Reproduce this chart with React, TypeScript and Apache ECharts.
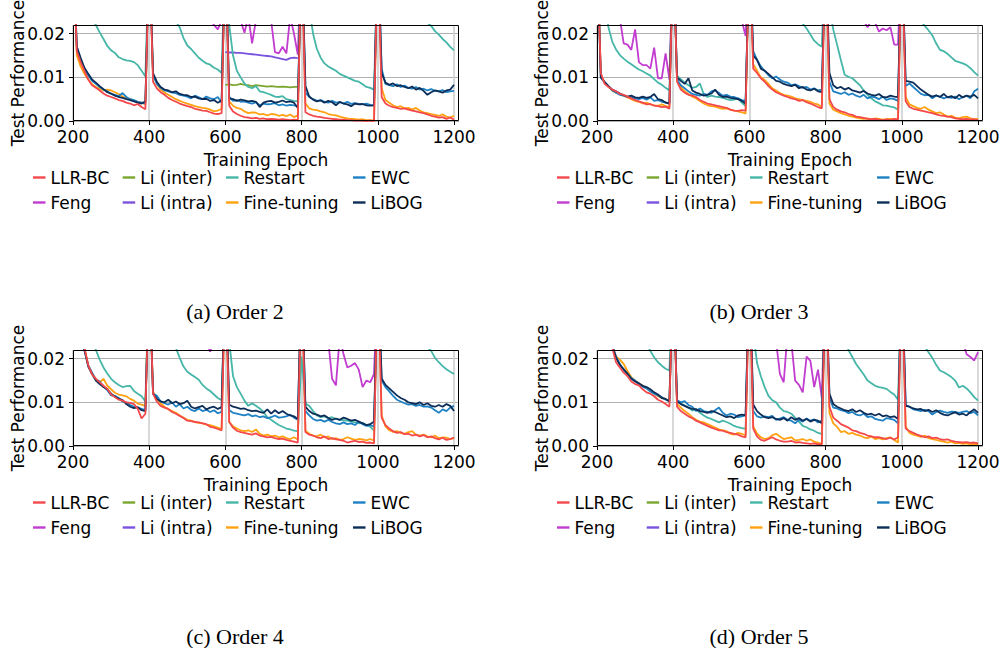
import React, { useEffect, useRef } from "react";
import * as echarts from "echarts";

// ---------- axes / labels ----------
const EPOCHS = [
  200, 210, 220, 230, 240, 250, 260, 270, 280, 290, 300, 310, 320, 330, 340, 350, 360, 370, 380, 390,
  400, 410, 420, 430, 440, 450, 460, 470, 480, 490, 500, 510, 520, 530, 540, 550, 560, 570, 580, 590,
  600, 610, 620, 630, 640, 650, 660, 670, 680, 690, 700, 710, 720, 730, 740, 750, 760, 770, 780, 790,
  800, 810, 820, 830, 840, 850, 860, 870, 880, 890, 900, 910, 920, 930, 940, 950, 960, 970, 980, 990,
  1000, 1010, 1020, 1030, 1040, 1050, 1060, 1070, 1080, 1090, 1100, 1110, 1120, 1130, 1140, 1150, 1160, 1170, 1180, 1190, 1200,
];
const LI_EPOCHS = [600, 610, 620, 630, 640, 650, 660, 670, 680, 690, 700, 710, 720, 730, 740, 750, 760, 770, 780, 790];
const X_TICKS = [200, 400, 600, 800, 1000, 1200];
const Y_TICKS = [0, 10, 20]; // values are in units of 1e-3
const Y_TICK_LABELS = ["0.00", "0.01", "0.02"];
const X_NAME = "Training Epoch";
const Y_NAME = "Test Performance";
const CAPTIONS = ["(a) Order 2", "(b) Order 3", "(c) Order 4", "(d) Order 5"];
const LEGEND_COLUMNS = [
  ["LLR-BC", "Feng"],
  ["Li (inter)", "Li (intra)"],
  ["Restart", "Fine-tuning"],
  ["EWC", "LiBOG"],
];
const COLORS: Record<string, string> = {
  "LLR-BC": "#f4484b",
  Feng: "#c13ccf",
  "Li (inter)": "#7aa630",
  "Li (intra)": "#7a52de",
  Restart: "#45b6a8",
  "Fine-tuning": "#ffa211",
  EWC: "#1d81c4",
  LiBOG: "#0c2d58",
};

// ---------- (a) Order 2 ----------
const A_LLR = [
  40, 16, 13.5, 11.5, 9.5, 8.2, 7.6, 7.0, 6.3, 5.8, 5.5, 5.2, 4.8, 4.6, 4.2, 4.0, 3.6, 3.9, 3.2, 2.7,
  40, 9, 7.5, 6.6, 6.0, 5.3, 4.8, 4.4, 4.0, 3.7, 3.4, 3.2, 2.8, 2.6, 2.4, 2.3, 2.0, 1.7, 1.6, 1.8,
  40, 3.5, 2.2, 1.6, 1.2, 0.9, 0.8, 0.6, 0.7, 0.5, 0.6, 0.4, 0.5, 0.4, 0.3, 0.4, 0.3, 0.2, 0.3, 0.2,
  40, 2.0, 1.5, 1.2, 1.0, 0.9, 0.7, 0.6, 0.5, 0.4, 0.3, 0.3, 0.2, 0.2, 0.1, 0.1, 0.1, 0.0, 0.1, 0.0,
  40, 5.5, 4.0, 3.5, 3.2, 3.0, 2.8, 2.9, 2.6, 2.4, 2.2, 2.0, 1.8, 1.5, 1.2, 1.0, 0.8, 0.9, 0.5, 0.8, 0.3,
];
const A_FT = [
  40, 15, 12.5, 10.8, 9.5, 8.4, 7.8, 7.4, 7.0, 7.2, 7.0, 6.6, 6.2, 5.6, 5.2, 5.0, 4.6, 4.4, 4.2, 3.8,
  40, 10.5, 8.5, 7.2, 6.5, 6.0, 5.5, 5.0, 4.6, 4.3, 4.0, 3.7, 3.4, 3.2, 3.0, 2.9, 2.6, 2.2, 2.4, 2.8,
  40, 4.5, 3.5, 3.0, 2.8, 2.2, 1.8, 2.0, 1.9, 1.5, 1.6, 1.3, 1.6, 1.5, 1.2, 1.4, 1.1, 1.5, 0.9, 1.3,
  40, 4.0, 2.9, 2.6, 2.5, 2.2, 2.0, 1.6, 1.4, 1.3, 1.0, 0.8, 0.6, 0.5, 0.4, 0.3, 0.4, 0.2, 0.2, 0.1,
  40, 7.5, 4.8, 4.2, 3.6, 3.2, 3.4, 2.9, 3.0, 2.6, 3.0, 2.4, 2.0, 1.8, 1.6, 1.4, 1.2, 1.5, 1.0, 0.8, 1.2,
];
const A_EWC = [
  40, 17, 14, 12, 10.5, 9.2, 8.5, 7.8, 7.2, 6.8, 6.2, 6.0, 5.7, 6.4, 5.5, 5.0, 4.8, 4.4, 4.2, 4.0,
  40, 10.5, 8.5, 7.6, 7.0, 6.8, 6.5, 6.4, 6.0, 5.8, 5.6, 5.2, 5.8, 5.4, 5.0, 5.6, 5.2, 5.0, 5.5, 4.2,
  40, 5.5, 4.6, 4.8, 4.4, 4.5, 4.2, 4.0, 4.3, 3.6, 4.0, 3.8, 3.9, 4.1, 3.6, 3.8, 3.5, 3.7, 3.6, 3.4,
  40, 6.5, 5.5, 5.0, 4.6, 4.8, 4.4, 4.2, 4.6, 4.2, 4.3, 4.0, 4.4, 3.9, 4.1, 3.9, 3.8, 4.0, 3.7, 3.6,
  40, 12, 8.5, 8.2, 8.0, 8.4, 7.8, 8.1, 7.6, 7.4, 7.8, 7.2, 7.4, 7.0, 7.3, 6.9, 6.8, 7.1, 6.6, 6.8, 6.9,
];
const A_LIBOG = [
  40, 17, 14.5, 12.2, 10.8, 9.5, 8.8, 8.0, 7.3, 6.6, 6.3, 5.8, 5.5, 5.3, 5.0, 4.8, 4.5, 4.2, 4.0, 4.5,
  40, 11, 9, 7.8, 7.2, 7.0, 6.6, 6.8, 6.2, 6.0, 5.9, 5.5, 5.6, 5.2, 5.0, 5.1, 4.6, 4.8, 4.2, 4.7,
  40, 5.2, 5.0, 4.6, 4.9, 4.7, 4.5, 4.6, 4.4, 3.2, 4.2, 4.5, 4.6, 4.2, 4.4, 4.7, 4.3, 4.5, 4.2, 3.0,
  40, 8.0, 5.6, 4.9, 4.5, 4.7, 4.2, 4.6, 4.3, 3.6, 4.4, 4.0, 3.8, 3.4, 4.0, 3.8, 3.9, 3.6, 3.5, 3.6,
  40, 11, 8.8, 8.3, 8.6, 8.0, 8.2, 7.8, 7.5, 7.9, 7.2, 7.6, 6.9, 6.0, 6.6, 7.0, 6.8, 6.5, 7.0, 7.2, 8.3,
];
const A_RESTART = [
  40, 38, 33, 29, 25.5, 23.5, 22, 20.3, 18.8, 17.2, 16.2, 15.6, 14.6, 14.2, 13.9, 13.8, 13.5, 12.8, 11.5, 10.2,
  40, 38, 36, 33, 30, 27, 24.5, 22.8, 21.5, 19, 17.3, 16.5, 15.5, 14.5, 13.8, 13.2, 12.9, 12.2, 11.8, 11.0,
  40, 22, 15, 11.5, 10, 8.6, 7.8, 7.5, 8.0, 6.8, 6.6, 6.3, 6.0, 5.6, 5.5, 5.7, 5.0, 4.8, 4.6, 4.5,
  40, 38, 26, 20, 16.5, 14.5, 13.2, 12.5, 12.0, 11.5, 10.8, 10.4, 10.0, 9.6, 9.2, 9.0, 8.4, 7.8, 7.6, 7.2,
  40, 38, 36, 34, 32, 31, 30, 29, 27.5, 26, 25, 24, 23.2, 22.5, 21.8, 20.6, 19.8, 18.8, 18.0, 17.0, 16.2,
];
const A_FENG = [
  40, 38, 36, 35, 34, 33, 32, 33, 31, 30, 31, 29, 30, 28, 29, 28, 27, 28, 26, 27,
  40, 38, 36, 34, 33, 31, 30, 29, 28.5, 27, 28, 26, 25.5, 26, 24.5, 25, 23.5, 22, 21, 23,
  40, 30, 26, 24, 23, 20.2, 24, 17.8, 23, 25, 24, 26, 23, 15.8, 15.5, 17, 15.5, 24, 20, 15.2,
  40, 38, 36, 35, 33, 32, 31, 30, 29, 28, 28.5, 27, 27.5, 26, 26.5, 25, 25.5, 24.5, 25, 24,
  40, 38, 36, 34, 33, 32, 31, 30, 29.5, 29, 28, 28.5, 27, 27.5, 26.5, 26, 26.5, 25.5, 25, 25.5, 24.8,
];
const A_LI_INTER = [8.3, 8.4, 8.2, 8.3, 8.5, 8.3, 8.2, 8.0, 8.2, 8.1, 8.0, 7.9, 8.0, 7.9, 7.8, 7.9, 7.8, 7.7, 7.8, 7.8];
const A_LI_INTRA = [15.8, 15.7, 15.7, 15.6, 15.6, 15.5, 15.4, 15.3, 15.2, 15.1, 15.0, 14.9, 14.8, 14.6, 14.4, 14.2, 14.0, 14.4, 14.5, 14.4];

// ---------- (b) Order 3 ----------
const B_LLR = [
  40, 11, 8.5, 7.8, 7.2, 6.8, 6.2, 6.0, 5.6, 5.2, 4.8, 4.5, 4.2, 3.8, 3.9, 3.5, 3.4, 3.2, 3.3, 2.8,
  40, 9, 7.2, 6.5, 6.0, 5.8, 5.5, 4.8, 4.4, 4.0, 3.8, 3.6, 3.4, 3.2, 3.0, 2.6, 2.4, 2.3, 2.5, 2.4,
  40, 12, 11, 9.8, 9.0, 8.0, 7.2, 6.6, 6.2, 5.8, 5.5, 5.2, 5.0, 4.6, 4.8, 4.3, 4.0, 3.6, 3.2, 2.9,
  40, 5.0, 3.2, 2.6, 2.2, 2.0, 1.6, 1.4, 1.0, 0.9, 0.7, 0.5, 0.4, 0.5, 0.3, 0.2, 0.4, 0.2, 0.5, 0.3,
  40, 4.5, 3.2, 2.8, 2.6, 2.4, 2.2, 2.0, 1.8, 1.5, 1.3, 1.2, 1.0, 0.9, 0.6, 0.5, 0.4, 0.5, 0.3, 0.4, 0.2,
];
const B_FT = [
  40, 10.5, 8.8, 7.9, 7.0, 6.5, 6.3, 5.8, 5.4, 5.0, 4.6, 4.4, 4.0, 4.2, 3.8, 3.6, 3.5, 3.8, 3.4, 3.2,
  40, 9.5, 7.8, 6.8, 6.2, 5.6, 5.2, 4.6, 4.0, 3.6, 3.4, 3.3, 3.0, 2.8, 2.9, 2.6, 2.4, 2.2, 2.0, 1.7,
  40, 13, 11.5, 10, 9.4, 8.5, 7.5, 7.0, 6.4, 6.0, 5.8, 5.6, 5.2, 5.0, 4.8, 4.6, 4.4, 4.0, 3.8, 3.2,
  40, 4.0, 2.6, 2.2, 1.8, 1.5, 1.2, 1.0, 0.8, 0.6, 0.5, 0.6, 0.4, 0.6, 0.5, 0.3, 0.4, 0.5, 0.3, 0.5,
  40, 5.5, 3.8, 3.4, 3.0, 2.8, 3.2, 2.6, 2.2, 1.8, 2.0, 1.5, 1.0, 1.2, 0.8, 0.6, 0.9, 1.0, 0.6, 0.4, 0.5,
];
const B_EWC = [
  40, 10, 8.8, 8.0, 7.0, 6.5, 6.0, 5.8, 5.5, 5.6, 5.2, 5.0, 5.3, 4.9, 5.4, 4.6, 4.8, 4.4, 4.3, 4.0,
  40, 9.5, 8.2, 7.5, 6.8, 6.2, 6.0, 5.8, 6.2, 6.0, 6.8, 7.0, 6.4, 5.8, 6.0, 5.6, 5.5, 5.2, 4.8, 4.6,
  40, 16, 14, 12.5, 11.5, 10.5, 9.8, 10.2, 9.5, 9.0, 8.8, 8.2, 8.4, 8.0, 7.6, 7.8, 7.2, 7.5, 7.0, 7.2,
  40, 9.0, 6.8, 6.5, 6.2, 6.6, 6.0, 6.3, 5.8, 5.5, 6.0, 5.2, 5.6, 5.4, 5.0, 5.6, 4.8, 5.2, 5.0, 4.6,
  40, 8.0, 8.6, 7.8, 7.0, 6.2, 5.9, 6.0, 5.2, 5.8, 5.6, 5.2, 5.5, 5.3, 5.6, 5.0, 5.5, 5.8, 5.2, 6.8, 7.4,
];
const B_LIBOG = [
  40, 10, 9.0, 8.0, 7.2, 6.8, 6.3, 5.9, 5.6, 5.8, 5.4, 5.3, 5.6, 5.3, 5.5, 6.2, 5.0, 4.8, 4.2, 4.0,
  40, 10, 9.2, 8.5, 9.8, 7.0, 6.5, 6.2, 5.8, 6.0, 6.3, 7.2, 6.0, 5.5, 5.6, 5.3, 5.2, 5.0, 4.6, 4.0,
  40, 15, 14, 12, 11.5, 10.8, 10.0, 9.2, 9.0, 8.5, 8.2, 8.0, 8.3, 7.5, 7.8, 7.2, 7.0, 7.4, 6.8, 6.6,
  40, 11, 8.2, 7.5, 7.8, 7.2, 7.6, 7.0, 6.8, 6.5, 6.9, 6.3, 6.0, 5.8, 6.2, 5.5, 5.4, 5.8, 5.6, 5.5,
  40, 9.2, 9.0, 8.8, 8.0, 7.2, 6.6, 6.0, 5.6, 5.9, 5.5, 6.2, 5.4, 5.7, 5.2, 6.0, 5.4, 5.8, 5.6, 6.0, 5.2,
];
const B_RESTART = [
  40, 36, 28, 21.5, 18.2, 16.4, 15.1, 14.3, 13.6, 13.0, 12.4, 11.8, 11.4, 10.9, 10.4, 9.6, 8.8, 8.3, 7.6, 7.0,
  40, 10.4, 9.6, 8.8, 8.2, 7.6, 7.8, 8.6, 6.2, 5.5, 5.8, 5.6, 5.5, 5.3, 5.0, 4.8, 4.9, 5.2, 4.2, 3.4,
  40, 38, 36, 34, 32, 31, 30, 29, 28, 27, 26, 25.5, 24.5, 23.5, 22.3, 21.2, 19.8, 18.4, 17.6, 17.0,
  40, 26, 21, 17.5, 14.0, 10.6, 10.1, 9.8, 9.0, 8.2, 7.0, 6.0, 5.2, 4.5, 4.1, 3.6, 3.5, 3.3, 3.1, 2.6,
  40, 38, 35, 30, 26, 23, 21.8, 20.8, 19.6, 17.8, 16.3, 16.0, 15.4, 14.6, 13.8, 13.5, 13.2, 12.8, 12.1, 11.2, 10.4,
];
const B_FENG = [
  40, 36, 33, 30, 28, 26, 23.5, 17.8, 17.5, 16.3, 21, 13.5, 12.8, 12.8, 12, 16.8, 9.8, 9.8, 15.5, 9.5,
  40, 38, 36, 34, 33, 32, 31, 30, 29, 28, 27.5, 27, 26, 26.5, 25, 24.5, 25, 24, 23, 19.5,
  40, 38, 37, 35, 34, 33, 32, 31, 30, 29.5, 29, 28, 28.5, 27, 26.5, 27, 26, 25.5, 25, 24.5,
  40, 38, 36, 34, 32, 30, 28, 27, 25, 24, 23, 21.5, 23, 22.5, 20.5, 21.2, 20.8, 21.5, 17.5, 17.5,
  40, 38, 36, 35, 34, 33, 32, 31, 30, 29, 28.5, 28, 27, 27.5, 26, 26.5, 25.5, 25, 25.5, 24.5, 24,
];

// ---------- (c) Order 4 ----------
const C_LLR = [
  40, 34, 27, 22.5, 18.5, 16.4, 15.4, 14.6, 13.8, 13.1, 11.8, 11.2, 10.6, 10.4, 10.0, 9.9, 9.6, 8.5, 6.3, 7.4,
  40, 12, 10.2, 9.2, 8.8, 8.5, 7.8, 7.4, 6.9, 6.4, 5.8, 5.7, 5.5, 5.4, 5.2, 5.0, 4.4, 4.2, 3.9, 3.6,
  40, 5.5, 4.2, 3.5, 3.2, 3.0, 2.8, 2.6, 2.9, 2.4, 2.2, 2.0, 2.1, 1.8, 1.6, 1.7, 1.4, 1.2, 1.0, 0.8,
  40, 3.2, 2.6, 2.4, 2.0, 1.8, 2.2, 1.6, 1.8, 1.5, 1.4, 1.2, 0.8, 1.0, 1.2, 0.9, 1.0, 0.7, 0.8, 0.6,
  40, 6.5, 4.8, 4.0, 3.4, 3.0, 3.2, 2.7, 2.8, 2.4, 2.6, 2.2, 2.5, 2.0, 2.2, 1.8, 1.5, 1.9, 1.4, 1.6, 1.9,
];
const C_FT = [
  40, 34, 27, 22.5, 18.5, 16.5, 15.4, 14.6, 15.4, 13.8, 13.0, 12.2, 11.8, 11.6, 11.4, 10.8, 10.4, 9.7, 9.5, 9.2,
  40, 12.5, 10.8, 9.8, 9.0, 8.4, 8.0, 7.6, 7.0, 6.5, 6.0, 5.8, 5.5, 5.3, 5.2, 4.9, 4.8, 4.5, 4.2, 3.9,
  40, 5.5, 4.5, 4.0, 3.6, 3.4, 3.6, 3.2, 3.8, 2.8, 2.4, 2.6, 2.2, 2.4, 2.0, 2.2, 1.8, 1.6, 2.0, 1.5,
  40, 3.5, 2.8, 2.4, 2.2, 2.6, 2.0, 2.2, 1.6, 1.8, 1.4, 1.6, 2.0, 1.7, 1.4, 1.6, 1.5, 1.3, 1.6, 1.2,
  40, 7.0, 4.5, 3.6, 3.2, 3.4, 3.0, 2.8, 3.2, 3.4, 2.6, 2.4, 2.6, 2.2, 2.0, 2.4, 1.8, 2.0, 1.9, 1.6, 1.8,
];
const C_EWC = [
  40, 34, 27, 22, 18.5, 16.8, 15.2, 14.8, 13.6, 12.8, 11.6, 11.5, 11.0, 10.2, 10.0, 9.4, 9.0, 8.8, 8.5, 8.2,
  40, 12, 11.5, 10.2, 9.8, 9.5, 10.0, 9.0, 9.6, 8.6, 9.0, 8.3, 8.0, 8.6, 8.0, 8.3, 7.8, 8.2, 7.5, 7.8,
  40, 8.2, 7.6, 7.4, 7.2, 7.0, 7.3, 6.8, 7.0, 6.6, 6.8, 6.4, 6.6, 7.0, 6.5, 6.6, 6.8, 7.2, 6.5, 6.0,
  40, 8.0, 7.0, 6.2, 5.8, 6.0, 5.6, 6.0, 5.5, 5.2, 5.0, 5.4, 5.0, 5.2, 4.8, 5.6, 5.0, 4.6, 4.8, 4.4,
  40, 15, 13.5, 12.5, 11.5, 10.6, 10.2, 9.8, 9.5, 9.6, 9.2, 9.4, 9.0, 9.1, 8.8, 8.2, 7.6, 8.4, 8.0, 8.8, 9.2,
];
const C_LIBOG = [
  40, 34, 27, 22, 18.2, 16.5, 15.0, 14.2, 13.5, 13.0, 12.0, 11.3, 10.8, 10.5, 9.6, 9.0, 8.7, 8.9, 8.2, 8.0,
  40, 12, 10.8, 10.2, 10.0, 10.6, 9.8, 10.2, 9.6, 9.8, 10.4, 9.0, 8.6, 8.9, 9.2, 8.4, 8.8, 9.0, 8.5, 8.9,
  40, 9.5, 9.0, 8.8, 8.5, 8.6, 8.2, 8.0, 8.1, 7.8, 7.6, 8.4, 7.4, 8.2, 7.5, 8.0, 7.4, 7.0, 6.8, 6.2,
  40, 9.0, 8.0, 7.4, 7.2, 6.8, 7.0, 6.4, 6.0, 6.3, 6.0, 6.5, 6.2, 5.8, 6.0, 5.6, 5.2, 4.8, 5.0, 5.6,
  40, 15.5, 14.0, 13.2, 12.4, 11.6, 11.0, 10.6, 10.0, 9.8, 9.6, 10.0, 9.4, 9.8, 9.2, 9.0, 9.4, 9.0, 9.6, 9.2, 8.0,
];
const C_RESTART = [
  40, 38, 35, 31, 27, 24, 22, 19.8, 18.0, 16.6, 15.4, 14.6, 14.0, 13.5, 13.7, 13.8, 12.6, 12.0, 11.4, 10.2,
  40, 38, 36, 33, 30, 27, 25, 22.5, 20.2, 18.2, 17.0, 16.4, 15.8, 15.2, 14.0, 13.2, 12.6, 11.8, 11.0, 10.5,
  40, 24, 16, 13.5, 12, 10.4, 9.2, 9.8, 9.2, 8.6, 7.8, 6.6, 6.0, 5.4, 4.8, 4.4, 4.0, 3.8, 3.5, 3.4,
  20.5, 9.7, 9.2, 8.0, 7.0, 6.6, 6.8, 6.4, 6.6, 6.2, 6.0, 5.9, 5.8, 5.6, 5.4, 5.2, 5.3, 4.8, 4.4, 3.6,
  40, 38, 36, 34, 32, 31, 30, 29, 28, 27, 26, 25, 24.2, 22.6, 21.8, 20.2, 19.2, 18.3, 17.6, 17.0, 16.5,
];
const C_FENG = [
  40, 38, 36, 35, 34, 33, 32, 31, 30.5, 30, 29, 28.5, 28, 27.5, 27, 26.5, 26, 25.5, 25, 24.5,
  40, 38, 36, 34, 33, 32, 31, 30, 29, 28, 27, 26.5, 26, 25, 24.5, 24, 21.6, 24.5, 25, 24,
  40, 38, 36, 35, 34, 33, 32, 31, 30, 29, 28.5, 28, 27.5, 27, 26.5, 26, 25.5, 25, 24.5, 24,
  40, 37, 34, 31, 29, 27, 25, 24, 15.4, 13.9, 25, 21, 18, 18.4, 19, 17.5, 13.5, 15, 14.6, 16.5,
  40, 38, 36, 35, 34, 33, 32, 31, 30, 29, 28.5, 28, 27, 27.5, 26.5, 26, 25.5, 25, 24.5, 24, 23.5,
];

// ---------- (d) Order 5 ----------
const D_LLR = [
  40, 36, 31, 26, 22.5, 19.2, 18.0, 16.8, 16.0, 14.8, 14.2, 13.9, 13.0, 12.3, 12.0, 11.4, 10.6, 10.2, 9.6, 9.0,
  40, 9.0, 8.0, 7.4, 6.8, 6.4, 5.8, 5.4, 5.0, 4.6, 4.2, 3.9, 3.6, 3.5, 3.2, 3.0, 2.8, 2.6, 2.2, 2.0,
  40, 4.0, 2.2, 1.4, 1.2, 1.6, 2.0, 1.5, 1.2, 1.0, 1.0, 1.2, 0.8, 0.9, 0.7, 0.6, 0.5, 0.6, 0.4, 0.4,
  40, 9.0, 6.5, 5.8, 5.0, 4.6, 4.2, 3.6, 3.4, 3.0, 2.8, 2.4, 2.2, 2.0, 2.0, 1.8, 1.6, 1.9, 1.5, 2.0,
  40, 4.0, 3.4, 3.0, 2.6, 2.3, 2.0, 2.2, 1.8, 1.9, 1.6, 1.4, 1.5, 1.2, 1.0, 0.9, 0.8, 0.9, 0.7, 0.8, 0.6,
];
const D_FT = [
  40, 36, 31, 26, 23, 20.5, 19.8, 18.8, 17.2, 15.8, 15.0, 14.3, 13.8, 13.2, 12.8, 12.0, 11.4, 11.0, 10.8, 10.2,
  40, 9.6, 8.8, 8.0, 7.4, 6.6, 6.0, 5.6, 5.4, 5.0, 4.6, 4.2, 3.8, 3.6, 3.4, 2.8, 2.6, 3.0, 2.8, 2.4,
  40, 4.5, 2.8, 2.0, 1.6, 1.8, 2.5, 2.8, 2.2, 1.6, 1.8, 2.0, 1.3, 1.4, 1.6, 1.2, 1.5, 1.0, 0.8, 0.5,
  40, 7.5, 5.2, 4.4, 3.2, 3.4, 2.8, 3.0, 2.6, 2.4, 2.0, 1.8, 2.2, 1.6, 1.8, 1.5, 1.8, 2.0, 1.4, 0.8,
  40, 4.5, 3.0, 2.6, 2.4, 2.1, 2.4, 1.8, 1.6, 1.4, 1.2, 1.0, 0.8, 1.0, 0.6, 0.7, 0.5, 0.6, 0.4, 0.5, 0.3,
];
const D_EWC = [
  40, 36, 31, 26, 23, 20.5, 18.8, 17.4, 16.5, 15.6, 15.0, 14.0, 13.6, 13.2, 12.5, 12.0, 11.6, 11.2, 10.6, 10.3,
  40, 10.5, 10.0, 10.3, 9.4, 9.0, 8.0, 8.6, 8.0, 7.8, 7.6, 8.2, 8.8, 7.6, 7.0, 7.4, 7.2, 6.6, 6.8, 7.0,
  40, 8.0, 6.8, 6.5, 6.8, 6.6, 6.9, 6.0, 6.3, 6.6, 6.0, 5.8, 5.2, 6.0, 5.6, 6.3, 5.8, 6.1, 5.4, 5.8,
  40, 11, 8.8, 8.6, 8.2, 8.0, 7.5, 7.8, 7.2, 7.0, 7.4, 6.6, 6.8, 6.2, 6.0, 5.8, 6.4, 6.2, 6.0, 5.2,
  40, 9.4, 9.0, 8.4, 8.2, 8.0, 8.3, 8.0, 7.2, 7.8, 8.1, 7.8, 7.6, 7.9, 7.8, 7.6, 7.8, 8.0, 7.5, 7.8, 7.0,
];
const D_LIBOG = [
  40, 36, 31, 26, 23, 20.2, 18.6, 17.6, 16.6, 15.4, 14.8, 14.4, 13.8, 13.5, 13.0, 12.3, 11.8, 11.0, 10.8, 10.2,
  40, 10.2, 9.6, 9.2, 8.8, 8.5, 8.4, 8.0, 7.8, 7.6, 8.0, 7.8, 7.4, 7.0, 6.6, 6.8, 6.4, 7.0, 7.2, 7.0,
  40, 9.5, 8.0, 7.2, 6.6, 6.4, 6.6, 6.2, 6.0, 6.4, 5.8, 6.6, 6.0, 6.4, 5.8, 6.2, 5.6, 6.0, 5.8, 5.2,
  40, 12, 9.6, 9.0, 8.6, 8.2, 8.0, 8.4, 7.8, 8.2, 7.6, 7.2, 7.4, 7.0, 7.4, 6.8, 7.0, 6.6, 6.8, 6.2,
  40, 9.2, 9.0, 8.6, 8.4, 8.5, 8.0, 8.3, 7.8, 8.2, 7.6, 7.2, 7.0, 7.4, 7.7, 7.2, 7.4, 7.0, 7.8, 8.4, 7.6,
];
const D_RESTART = [
  40, 38, 36, 35, 33, 32, 31, 30, 29, 28, 27, 26, 25, 23.5, 21.8, 20.3, 19.2, 18.4, 17.7, 17.3,
  40, 10.5, 9.8, 9.3, 8.8, 8.1, 8.5, 7.6, 7.0, 6.5, 6.2, 5.8, 5.4, 5.8, 5.5, 5.1, 4.6, 4.3, 4.1, 3.9,
  40, 26, 19, 16, 13.5, 11.5, 10.5, 10.0, 8.8, 8.0, 7.8, 7.4, 6.5, 5.6, 4.6, 4.3, 3.8, 3.5, 3.0, 2.8,
  40, 38, 34, 30, 27, 24, 22, 20.4, 18.8, 17.6, 16.4, 15.0, 14.4, 13.8, 13.5, 13.3, 13.1, 12.4, 11.8, 10.6,
  40, 38, 35, 31, 27, 24.5, 22.8, 21.5, 20.2, 18.6, 17.3, 16.9, 16.4, 15.8, 15.0, 13.4, 13.8, 13.2, 12.3, 11.2, 10.4,
];
const D_FENG = [
  40, 38, 37, 36, 35, 34, 33, 32, 31, 30.5, 30, 29, 28.5, 28, 27.5, 27, 26.5, 26, 25.5, 25,
  40, 38, 36, 34, 33, 32, 31, 30, 29, 28.5, 28, 27.5, 27, 26.5, 26, 25.5, 25, 24.5, 24, 23.5,
  40, 37, 34, 31, 29, 27, 25.5, 24, 16.5, 14.6, 26, 24, 15, 14, 12.3, 20.5, 19.5, 13.5, 17.5, 11,
  40, 38, 36, 35, 34, 33, 32, 31, 30, 29, 28.5, 28, 27.5, 27, 26.5, 26, 25.5, 25, 24.5, 24,
  40, 38, 36, 35, 34, 33, 32, 31, 30, 29, 28.5, 28, 27, 26.5, 26, 25, 24, 21, 20.4, 19.6, 21.5,
];

type Panel = {
  caption: string;
  llr: number[];
  feng: number[];
  liInter: number[];
  liIntra: number[];
  restart: number[];
  ft: number[];
  ewc: number[];
  libog: number[];
};

const PANELS: Panel[] = [
  { caption: CAPTIONS[0], llr: A_LLR, feng: A_FENG, liInter: A_LI_INTER, liIntra: A_LI_INTRA, restart: A_RESTART, ft: A_FT, ewc: A_EWC, libog: A_LIBOG },
  { caption: CAPTIONS[1], llr: B_LLR, feng: B_FENG, liInter: [], liIntra: [], restart: B_RESTART, ft: B_FT, ewc: B_EWC, libog: B_LIBOG },
  { caption: CAPTIONS[2], llr: C_LLR, feng: C_FENG, liInter: [], liIntra: [], restart: C_RESTART, ft: C_FT, ewc: C_EWC, libog: C_LIBOG },
  { caption: CAPTIONS[3], llr: D_LLR, feng: D_FENG, liInter: [], liIntra: [], restart: D_RESTART, ft: D_FT, ewc: D_EWC, libog: D_LIBOG },
];

// ---------- layout (pixels) ----------
const BOXES = [
  { left: 0, top: 0, width: 500, height: 325 },
  { left: 524, top: 0, width: 478, height: 325 },
  { left: 0, top: 325, width: 500, height: 323 },
  { left: 524, top: 325, width: 478, height: 323 },
];
const GRID = { left: 73, top: 25, width: 386, height: 96 };
const LEGEND_LEFT = [33, 122.7, 226, 353];
const FONT = "DejaVu Sans";
const FS = 17;

function buildOption(p: Panel): any {
  const defs: [string, number[], number[]][] = [
    ["Feng", p.feng, EPOCHS],
    ["Li (inter)", p.liInter, LI_EPOCHS],
    ["Li (intra)", p.liIntra, LI_EPOCHS],
    ["Restart", p.restart, EPOCHS],
    ["Fine-tuning", p.ft, EPOCHS],
    ["EWC", p.ewc, EPOCHS],
    ["LiBOG", p.libog, EPOCHS],
    ["LLR-BC", p.llr, EPOCHS],
  ];
  const series = defs.map(([name, vals, xs]) => ({
    type: "line",
    name,
    data: vals.map((v, i) => [xs[i], v]),
    symbol: "none",
    showSymbol: false,
    color: COLORS[name],
    lineStyle: { width: 1.8, color: COLORS[name] },
    clip: true,
    silent: true,
  }));

  return {
    animation: false,
    backgroundColor: "#ffffff",
    textStyle: { fontFamily: FONT },
    grid: {
      left: GRID.left,
      top: GRID.top,
      width: GRID.width,
      height: GRID.height,
      show: false,
      containLabel: false,
      outerBoundsMode: "none",
    },
    xAxis: {
      type: "value",
      min: 200,
      max: 1213,
      interval: 200,
      name: X_NAME,
      nameLocation: "middle",
      nameGap: 30,
      nameMoveOverlap: false,
      nameTextStyle: { fontSize: FS, color: "#000", fontFamily: FONT, lineHeight: 17 },
      axisLine: { show: false },
      axisTick: { show: true, length: 4, customValues: X_TICKS, lineStyle: { color: "#000", width: 1 } },
      axisLabel: {
        fontSize: FS,
        color: "#000",
        fontFamily: FONT,
        margin: 7,
        customValues: X_TICKS,
        formatter: (v: number) => (X_TICKS.indexOf(v) >= 0 ? String(v) : ""),
      },
      splitLine: { show: true, lineStyle: { color: "#cfcfcf", width: 1.6 } },
    },
    yAxis: {
      type: "value",
      min: 0,
      max: 22,
      interval: 10,
      name: Y_NAME,
      nameLocation: "middle",
      nameGap: 47,
      nameMoveOverlap: false,
      nameTextStyle: { fontSize: FS, color: "#000", fontFamily: FONT },
      axisLine: { show: false },
      axisTick: { show: true, length: 4, customValues: Y_TICKS, lineStyle: { color: "#000", width: 1 } },
      axisLabel: {
        fontSize: FS,
        color: "#000",
        fontFamily: FONT,
        margin: 8,
        customValues: Y_TICKS,
        formatter: (v: number) => {
          const i = Y_TICKS.indexOf(v);
          return i >= 0 ? Y_TICK_LABELS[i] : "";
        },
      },
      splitLine: { show: true, lineStyle: { color: "#b0b0b0", width: 1 } },
    },
    legend: LEGEND_COLUMNS.map((names, i) => ({
      data: names,
      orient: "vertical",
      left: LEGEND_LEFT[i],
      top: 169,
      padding: 0,
      itemGap: 8,
      itemWidth: 12.5,
      itemHeight: 2.4,
      icon: "rect",
      selectedMode: false,
      itemStyle: { borderWidth: 0 },
      textStyle: { fontSize: FS, color: "#000", fontFamily: FONT, lineHeight: 17 },
    })),
    graphic: [
      {
        type: "rect",
        z: 100,
        silent: true,
        shape: { x: GRID.left + 0.5, y: GRID.top + 0.5, width: GRID.width - 1, height: GRID.height - 1 },
        style: { fill: "none", stroke: "#000", lineWidth: 1 },
      },
      {
        type: "text",
        x: 235,
        y: 311,
        silent: true,
        style: {
          text: p.caption,
          fill: "#000",
          fontSize: 22,
          fontFamily: "Liberation Serif",
          align: "center",
          verticalAlign: "middle",
        },
      },
    ],
    series,
  };
}

export default function App() {
  const r0 = useRef<HTMLDivElement>(null);
  const r1 = useRef<HTMLDivElement>(null);
  const r2 = useRef<HTMLDivElement>(null);
  const r3 = useRef<HTMLDivElement>(null);
  const refs = [r0, r1, r2, r3];

  useEffect(() => {
    const charts = PANELS.map((p, i) => {
      const el = refs[i].current as HTMLDivElement;
      const chart = echarts.init(el, undefined, { renderer: "svg" });
      chart.setOption(buildOption(p));
      return chart;
    });
    return () => charts.forEach((c) => c.dispose());
  }, []);

  return (
    <div style={{ position: "absolute", left: 0, top: 0, width: 1002, height: 648, background: "#fff", overflow: "hidden" }}>
      {BOXES.map((b, i) => (
        <div
          key={i}
          ref={refs[i]}
          style={{ position: "absolute", left: b.left, top: b.top, width: b.width, height: b.height }}
        />
      ))}
    </div>
  );
}
